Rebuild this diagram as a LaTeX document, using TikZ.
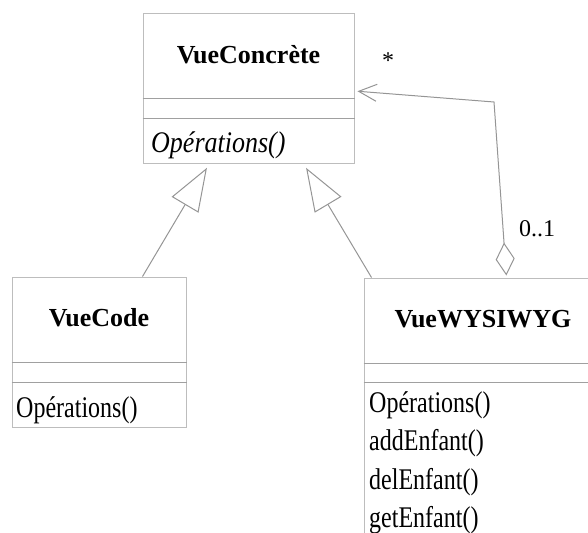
\documentclass[tikz,border=0pt]{standalone}
\usepackage{fontspec}
\setmainfont{Liberation Serif}
\usetikzlibrary{arrows.meta,calc}
\definecolor{boxline}{HTML}{BDBDBD}
\definecolor{sepline}{HTML}{A0A0A0}
\definecolor{linkline}{HTML}{959595}
\newcommand{\opname}[1]{\scalebox{1}[1.25]{#1}}
\newcommand{\opnameit}[1]{\scalebox{1}[1.15]{\itshape #1}}
\tikzset{
  umlbox/.style={draw=boxline, line width=1pt, inner sep=0pt},
  umlsep/.style={draw=sepline, line width=1pt},
  classname/.style={font=\fontsize{26}{30}\selectfont\bfseries, anchor=base},
  method/.style={font=\fontsize{24}{28}\selectfont, anchor=base west, inner sep=0pt},
  methodit/.style={method, font=\fontsize{26}{30}\selectfont},
  mult/.style={font=\fontsize{24}{28}\selectfont, anchor=base},
  inherit/.style={draw=linkline, line width=1pt, shorten >=5pt,
    -{Triangle[open, length=43pt, width=31pt]}},
  aggreg/.style={draw=linkline, line width=1pt,
    {Diamond[open, length=33pt, width=19pt]}-{Straight Barb[length=18pt, width=17pt]}},
}
\begin{document}
\begin{tikzpicture}[x=1pt,y=-1pt]
  \useasboundingbox (0,0) rectangle (588,532);

  % classes
  \node[umlbox, minimum width=211pt, minimum height=149pt] (conc) at (248.5,88.5) {};
  \node[umlbox, minimum width=174pt, minimum height=150pt] (code) at (99,352) {};
  \node[umlbox, minimum width=240pt, minimum height=290pt] (wys) at (484,423) {};

  \draw[umlsep] ($(conc.north west)+(0,85)$) -- ($(conc.north east)+(0,85)$);
  \draw[umlsep] ($(conc.north west)+(0,105)$) -- ($(conc.north east)+(0,105)$);
  \draw[umlsep] ($(code.north west)+(0,86)$) -- ($(code.north east)+(0,86)$);
  \draw[umlsep] ($(code.north west)+(0,106)$) -- ($(code.north east)+(0,106)$);
  \draw[umlsep] ($(wys.north west)+(0,86)$) -- ($(wys.north east)+(0,86)$);
  \draw[umlsep] ($(wys.north west)+(0,105)$) -- ($(wys.north east)+(0,105)$);

  \node[classname] (concname) at (248.5,64) {VueConcrète};
  \node[methodit] (concop) at (151,152) {\opnameit{Opérations()}};

  \node[classname] (codename) at (99,326) {VueCode};
  \node[method] (codeop) at (16,417) {\opname{Opérations()}};

  \node[classname] (wysname) at (483,327) {VueWYSIWYG};
  \node[method] (wysop) at (369,412) {\opname{Opérations()}};
  \node[method] (wysadd) at (369,450) {\opname{addEnfant()}};
  \node[method] (wysdel) at (369,489) {\opname{delEnfant()}};
  \node[method] (wysget) at (369,527) {\opname{getEnfant()}};

  % links
  \draw[inherit] ($(code.north west)+(131,0)$) -- ($(conc.south west)+(67,0)$);
  \draw[inherit] ($(wys.north west)+(8,0)$) -- ($(conc.south west)+(161,0)$);

  \coordinate (bend) at (494,102);
  \draw[aggreg, shorten <=2pt, shorten >=3pt]
    ($(wys.north west)+(143,0)$) -- (bend) -- ($(conc.east)+(0,2.5)$);

  \node[mult] (many) at (388,69) {*};
  \node[mult] (opt) at (537,236) {0..1};
\end{tikzpicture}
\end{document}
